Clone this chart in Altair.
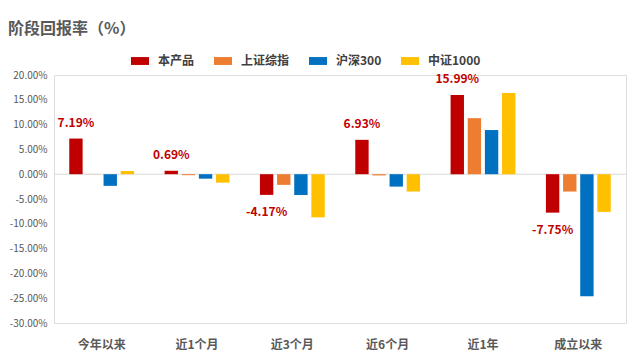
import altair as alt
import pandas as pd

categories = ["今年以来", "近1个月", "近3个月", "近6个月", "近1年", "成立以来"]
series = ["本产品", "上证综指", "沪深300", "中证1000"]
colors = ["#C00000", "#ED7D31", "#0070C0", "#FFC000"]
product = [7.19, 0.69, -4.17, 6.93, 15.99, -7.75]
sse = [-0.03, -0.2, -2.15, -0.25, 11.3, -3.5]
csi300 = [-2.35, -0.9, -4.2, -2.5, 8.9, -24.6]
csi1000 = [0.65, -1.7, -8.7, -3.5, 16.35, -7.6]
y_ticks = [-30, -25, -20, -15, -10, -5, 0, 5, 10, 15, 20]

rows = []
for s, vals in zip(series, [product, sse, csi300, csi1000]):
    for c, v in zip(categories, vals):
        rows.append({"category": c, "series": s, "value": v, "label": f"{v:.2f}%"})
df = pd.DataFrame(rows)

FONT = "Noto Sans CJK SC"
GRAY = "#595959"

x = alt.X(
    "category:N", sort=categories,
    scale=alt.Scale(paddingInner=0.32, paddingOuter=0.16),
    axis=alt.Axis(title=None, domain=False, ticks=False, labelPadding=16,
                  labelFontWeight="bold", labelFontSize=12, labelColor=GRAY,
                  labelAngle=0, labelFont=FONT),
)
xoff = alt.XOffset("series:N", sort=series, scale=alt.Scale(paddingInner=0.22, paddingOuter=0))
yscale = alt.Scale(domain=[-30, 20], nice=False, zero=False)
yaxis = alt.Axis(title=None, values=y_ticks, tickCount=len(y_ticks), grid=False, domain=False,
                 ticks=False, labelOverlap=False, labelPadding=7, labelFontSize=10,
                 labelColor=GRAY, labelFont=FONT,
                 labelExpr="(datum.value < 0 ? '-' : '') + format(abs(datum.value), '.2f') + '%'")
y = alt.Y("value:Q", scale=yscale, axis=yaxis)
color = alt.Color(
    "series:N", sort=series,
    scale=alt.Scale(domain=series, range=colors),
    legend=alt.Legend(title=None, orient="none", legendX=77, legendY=-23, direction="horizontal",
                      symbolType="M-1,-0.44H1V0.44H-1Z", symbolSize=324, symbolStrokeWidth=0,
                      labelFontSize=12, labelFontWeight="bold", labelColor="#404040", labelFont=FONT,
                      columnPadding=19, labelOffset=9),
)

base = alt.Chart(df)
zero = base.transform_aggregate(n="count()").transform_calculate(value="0").mark_rule(
    color="#D9D9D9", strokeWidth=1
).encode(y=y)
bars = base.mark_bar().encode(x=x, xOffset=xoff, y=y, color=color)
prod = base.transform_filter(alt.datum.series == "本产品")
pos_lbl = prod.transform_filter(alt.datum.value >= 0).mark_text(
    dy=-16, fontWeight="bold", fontSize=12, color="#C00000", font=FONT, baseline="middle"
).encode(x=x, xOffset=xoff, y=y, text="label:N")
neg_lbl = prod.transform_filter(alt.datum.value < 0).mark_text(
    dy=17, fontWeight="bold", fontSize=12, color="#C00000", font=FONT, baseline="middle"
).encode(x=x, xOffset=xoff, y=y, text="label:N")

chart = alt.layer(zero, bars, pos_lbl, neg_lbl).properties(
    width=572, height=248,
    autosize=alt.AutoSizeParams(type="none"),
    padding={"left": 46, "top": 67, "right": 6, "bottom": 30},
    title=alt.TitleParams("阶段回报率（%）", anchor="start", frame="group", fontSize=16,
                          fontWeight="bold", color=GRAY, font=FONT, dx=-46, dy=-11),
).configure_view(stroke=None).configure(font=FONT)

chart.save("out.html", embed_options={"renderer": "svg", "actions": False})
